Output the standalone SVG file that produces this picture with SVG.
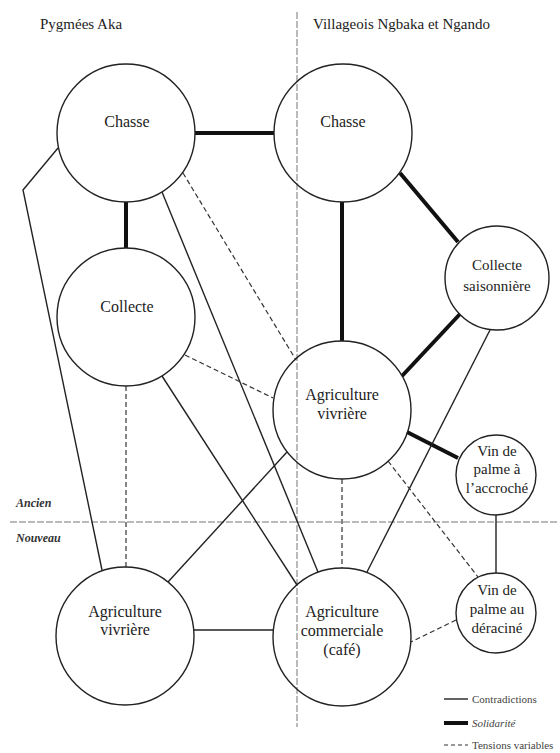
<svg xmlns="http://www.w3.org/2000/svg" width="560" height="753" viewBox="0 0 560 753">
<style>
.bg{fill:#fff}
.sep{stroke:#777;stroke-width:1;fill:none;stroke-dasharray:7 2}
.node circle{fill:none;stroke:#222;stroke-width:1.4}
.t{font-family:"Liberation Serif","DejaVu Serif",serif;fill:#222;text-anchor:middle}
.big{font-size:16px}
.small{font-size:15px}
.title{font-family:"Liberation Serif","DejaVu Serif",serif;font-size:15px;fill:#222}
.era{font-family:"Liberation Serif","DejaVu Serif",serif;font-size:12px;font-style:italic;font-weight:bold;fill:#333}
.thin{stroke:#222;stroke-width:1.4;fill:none}
.thick{stroke:#111;stroke-width:4;fill:none}
.dash{stroke:#333;stroke-width:1.2;fill:none;stroke-dasharray:5 3}
.leg{font-family:"Liberation Serif","DejaVu Serif",serif;font-size:11px;fill:#444}
</style>
<rect class="bg" x="0" y="0" width="560" height="753"/>

<g id="separators">
<line class="sep" x1="297" y1="12" x2="297" y2="727"/>
<line class="sep" x1="10" y1="522" x2="557" y2="522"/>
</g>

<g id="headers">
<text class="title" x="40" y="29">Pygmées Aka</text>
<text class="title" x="313" y="29">Villageois Ngbaka et Ngando</text>
<text class="era" x="16" y="507">Ancien</text>
<text class="era" x="16" y="542">Nouveau</text>
</g>

<g id="connectors">
<line class="thick" x1="195" y1="133" x2="274" y2="133"/>
<line class="thick" x1="126" y1="202" x2="126" y2="248"/>
<line class="thick" x1="342" y1="202" x2="342" y2="341"/>
<line class="thick" x1="400" y1="173" x2="458" y2="242"/>
<line class="thick" x1="460" y1="314" x2="402" y2="376"/>
<line class="thick" x1="407" y1="432" x2="458" y2="458"/>
<polyline class="thin" points="58,148 23,190 102,570"/>
<line class="thin" x1="162" y1="192" x2="318" y2="572"/>
<line class="thin" x1="162" y1="376" x2="297" y2="585"/>
<line class="thin" x1="490" y1="330" x2="367" y2="572"/>
<line class="thin" x1="287" y1="452" x2="168" y2="582"/>
<line class="thin" x1="496" y1="515" x2="496" y2="573"/>
<line class="thin" x1="194" y1="630" x2="273" y2="630"/>
<line class="dash" x1="126" y1="386" x2="126" y2="567"/>
<line class="dash" x1="183" y1="173" x2="296" y2="360"/>
<line class="dash" x1="185" y1="355" x2="273" y2="398"/>
<line class="dash" x1="342" y1="479" x2="342" y2="568"/>
<line class="dash" x1="388" y1="461" x2="478" y2="577"/>
<line class="dash" x1="456" y1="620" x2="411" y2="642"/>
</g>

<g id="n-chasse-aka" class="node">
<circle cx="126" cy="133" r="69"/>
<text class="t big" x="127" y="127">Chasse</text>
</g>
<g id="n-collecte-aka" class="node">
<circle cx="126" cy="317" r="69"/>
<text class="t big" x="127" y="312">Collecte</text>
</g>
<g id="n-agri-aka" class="node">
<circle cx="125" cy="636" r="69"/>
<text class="t big" x="125" y="617">Agriculture</text>
<text class="t big" x="125" y="635">vivrière</text>
</g>
<g id="n-chasse-vil" class="node">
<circle cx="343" cy="133" r="69"/>
<text class="t big" x="343" y="127">Chasse</text>
</g>
<g id="n-collecte-sais" class="node">
<circle cx="497" cy="278" r="52"/>
<text class="t small" x="497" y="270">Collecte</text>
<text class="t small" x="497" y="291">saisonnière</text>
</g>
<g id="n-agri-vil" class="node">
<circle cx="342" cy="410" r="69"/>
<text class="t big" x="342" y="400">Agriculture</text>
<text class="t big" x="342" y="419">vivrière</text>
</g>
<g id="n-vin-accroche" class="node">
<circle cx="496" cy="475" r="40"/>
<text class="t small" x="497" y="456">Vin de</text>
<text class="t small" x="497" y="474">palme à</text>
<text class="t small" x="497" y="493">l’accroché</text>
</g>
<g id="n-vin-deracine" class="node">
<circle cx="496" cy="613" r="40"/>
<text class="t small" x="497" y="595">Vin de</text>
<text class="t small" x="497" y="614">palme au</text>
<text class="t small" x="497" y="633">déraciné</text>
</g>
<g id="n-agri-comm" class="node">
<circle cx="342" cy="637" r="69"/>
<text class="t big" x="342" y="617">Agriculture</text>
<text class="t big" x="342" y="636">commerciale</text>
<text class="t big" x="342" y="655">(café)</text>
</g>

<g id="legend">
<line class="thin" x1="444" y1="699" x2="468" y2="699"/>
<text class="leg" x="472" y="703">Contradictions</text>
<line class="thick" x1="444" y1="723" x2="468" y2="723"/>
<text class="leg" x="472" y="727" font-style="italic">Solidarité</text>
<line class="dash" x1="444" y1="745" x2="468" y2="745" style="stroke-dasharray:4 3"/>
<text class="leg" x="472" y="749">Tensions variables</text>
</g>
</svg>
